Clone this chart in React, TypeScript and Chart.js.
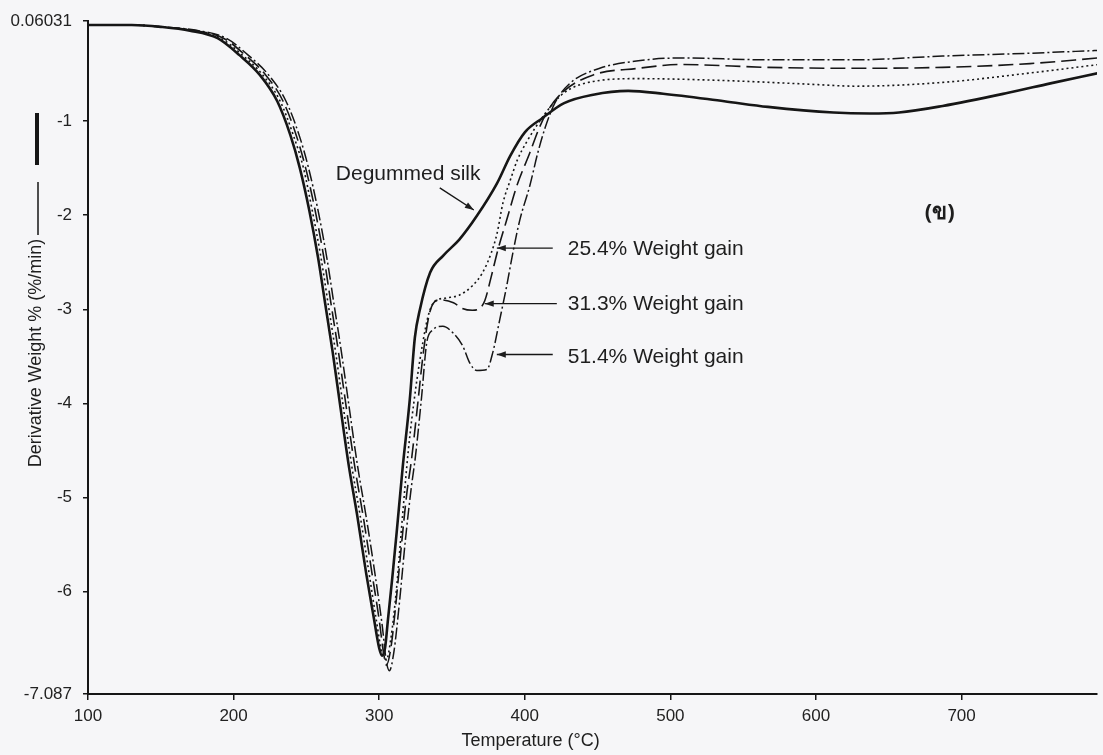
import React, { useEffect, useRef } from 'react';
import { Chart, registerables } from 'chart.js';

Chart.register(...registerables);

// ---- Data (Temperature °C vs Derivative Weight %/min) ----
const silkT = [100,130,150,170,189,204,218,230,239,245.5,252,258,263,268,273,279,285,291,296,300,302,304,306,309,312,316,321,324.5,328,335,344,355,367,381,390,400,412,427,447,471,495,537,567,612,637,657,687,732,761,794];
const silkV = [0.02,0.02,0,-0.04,-0.12,-0.30,-0.51,-0.79,-1.15,-1.50,-1.95,-2.45,-2.95,-3.45,-4.0,-4.65,-5.2,-5.8,-6.25,-6.6,-6.68,-6.6,-6.3,-5.85,-5.37,-4.7,-3.96,-3.3,-3.0,-2.61,-2.43,-2.26,-2.01,-1.66,-1.37,-1.12,-0.97,-0.81,-0.72,-0.68,-0.71,-0.79,-0.85,-0.91,-0.92,-0.91,-0.84,-0.70,-0.60,-0.49];

const gain25T = [100,130,150,172,191,206,220,232,241,248,254,260,265,270,275,281,287,293,298,302,305,308,312,316,320,325,330,334,338,346,355,364,371,377,381,385,390,395,401,414,427,447,478,537,597,627,687,747,794];
const gain25V = [0.02,0.02,0,-0.04,-0.12,-0.30,-0.51,-0.79,-1.15,-1.50,-1.95,-2.45,-2.95,-3.45,-4.0,-4.65,-5.2,-5.8,-6.3,-6.66,-6.72,-6.5,-5.95,-5.2,-4.5,-3.85,-3.35,-3.05,-2.92,-2.88,-2.85,-2.75,-2.61,-2.40,-2.19,-1.87,-1.63,-1.41,-1.23,-0.92,-0.70,-0.58,-0.55,-0.57,-0.61,-0.63,-0.59,-0.49,-0.40];

const gain31T = [100,130,150,174,193,208,222,234,243,249.5,256,262,267,272,277,283,289,295,300,303,305,308,311,315,319,322,326.5,330,334,337,342,351,357,364,369,372.5,377,381.5,387.6,394.5,403.4,410,417,427,447,478,507,567,627,687,747,794];
const gain31V = [0.02,0.02,0,-0.04,-0.12,-0.30,-0.51,-0.79,-1.15,-1.50,-1.95,-2.45,-2.95,-3.45,-4.0,-4.65,-5.2,-5.8,-6.3,-6.65,-6.78,-6.6,-6.2,-5.55,-4.95,-4.62,-4.0,-3.5,-3.08,-2.94,-2.90,-2.93,-2.99,-3.01,-2.99,-2.91,-2.65,-2.37,-2.05,-1.69,-1.34,-1.07,-0.86,-0.68,-0.51,-0.44,-0.40,-0.43,-0.44,-0.43,-0.39,-0.33];

const gain51T = [100,130,150,176,195,210,224,236,245,251.5,258,264,269,274,279,285,291,297,302,305,307,310,314,318,322,325,329,332.7,336.8,343.7,350.6,357.4,362.2,367,373.9,378,382.8,387.6,391.8,396.6,403.4,408.9,414,420.6,431,451.5,478,507,567,627,687,747,794];
const gain51V = [0.02,0.02,0,-0.04,-0.12,-0.30,-0.51,-0.79,-1.15,-1.50,-1.95,-2.45,-2.95,-3.45,-4.0,-4.65,-5.2,-5.8,-6.35,-6.75,-6.84,-6.65,-6.1,-5.45,-4.9,-4.55,-3.95,-3.35,-3.22,-3.18,-3.25,-3.39,-3.57,-3.65,-3.64,-3.46,-3.11,-2.75,-2.40,-2.05,-1.69,-1.34,-1.07,-0.81,-0.60,-0.44,-0.36,-0.33,-0.35,-0.35,-0.31,-0.28,-0.25];

const xTickValues = [100, 200, 300, 400, 500, 600, 700];
const yTickValues = [0.06031, -1, -2, -3, -4, -5, -6, -7.087];
const X_MIN = 100;
const X_MAX = 793;
const Y_MIN = -7.087;
const Y_MAX = 0.06031;

// annotation anchors in data units
const labelTexts = ['Degummed silk', '25.4% Weight gain', '31.3% Weight gain', '51.4% Weight gain'];
const labelT = [270.2, 429.5, 429.5, 429.5];
const labelV = [-1.57, -2.36, -2.95, -3.51];
const arrowFromT = [341.6, 419.2, 422.0, 419.2];
const arrowFromV = [-1.71, -2.35, -2.94, -3.48];
const arrowToT = [365.0, 380.8, 372.5, 380.8];
const arrowToV = [-1.945, -2.35, -2.94, -3.48];
const panelTag = '(ข)';
const panelT = 685;
const panelV = -1.97;

const FONT = "'Liberation Sans', Arial, sans-serif";
const INK = '#161616';
const BG = '#f6f6f8';

const toXY = (t: number[], v: number[]) => t.map((x, i) => ({ x, y: v[i] }));

function drawArrow(ctx: CanvasRenderingContext2D, x1: number, y1: number, x2: number, y2: number) {
  ctx.beginPath();
  ctx.moveTo(x1, y1);
  ctx.lineTo(x2, y2);
  ctx.stroke();
  const ang = Math.atan2(y2 - y1, x2 - x1);
  const L = 9, W = 3.2;
  ctx.beginPath();
  ctx.moveTo(x2, y2);
  ctx.lineTo(x2 - L * Math.cos(ang) + W * Math.sin(ang), y2 - L * Math.sin(ang) - W * Math.cos(ang));
  ctx.lineTo(x2 - L * Math.cos(ang) - W * Math.sin(ang), y2 - L * Math.sin(ang) + W * Math.cos(ang));
  ctx.closePath();
  ctx.fill();
}

const decoPlugin = {
  id: 'deco',
  beforeDraw(chart: any) {
    const ctx = chart.ctx;
    ctx.save();
    ctx.fillStyle = BG;
    ctx.fillRect(0, 0, chart.width, chart.height);
    ctx.restore();
  },
  afterDraw(chart: any) {
    const ctx: CanvasRenderingContext2D = chart.ctx;
    const xs = chart.scales.x;
    const ys = chart.scales.y;
    const area = chart.chartArea;
    ctx.save();
    ctx.fillStyle = '#1e1e1e';
    ctx.strokeStyle = INK;
    ctx.lineWidth = 1.4;
    ctx.textBaseline = 'middle';
    ctx.textAlign = 'left';
    ctx.font = `21px ${FONT}`;
    for (let i = 0; i < labelTexts.length; i++) {
      ctx.fillText(labelTexts[i], xs.getPixelForValue(labelT[i]), ys.getPixelForValue(labelV[i]));
      drawArrow(
        ctx,
        xs.getPixelForValue(arrowFromT[i]), ys.getPixelForValue(arrowFromV[i]),
        xs.getPixelForValue(arrowToT[i]), ys.getPixelForValue(arrowToV[i])
      );
    }
    // panel tag
    ctx.textAlign = 'center';
    ctx.font = `bold 22px 'Noto Sans', 'DejaVu Sans', ${FONT}`;
    ctx.fillText(panelTag, xs.getPixelForValue(panelT), ys.getPixelForValue(panelV));

    // x title
    ctx.font = `18px ${FONT}`;
    ctx.textAlign = 'center';
    ctx.fillText('Temperature (°C)', xs.getPixelForValue(404), area.bottom + 47);

    // y title
    ctx.save();
    ctx.translate(area.left - 52, 353);
    ctx.rotate(-Math.PI / 2);
    ctx.font = `18px ${FONT}`;
    ctx.textAlign = 'center';
    ctx.fillText('Derivative Weight % (%/min)', 0, 0);
    ctx.restore();
    // line-style sample after the title
    ctx.lineWidth = 1.5;
    ctx.beginPath();
    ctx.moveTo(area.left - 50, 235);
    ctx.lineTo(area.left - 50, 182);
    ctx.stroke();
    // thick bar marker
    ctx.lineWidth = 4;
    ctx.beginPath();
    ctx.moveTo(area.left - 51, 165);
    ctx.lineTo(area.left - 51, 113);
    ctx.stroke();
    ctx.restore();
  },
};

export default function App() {
  const ref = useRef<HTMLCanvasElement | null>(null);

  useEffect(() => {
    if (!ref.current) return;
    const common = {
      borderColor: INK,
      pointRadius: 0,
      fill: false,
      cubicInterpolationMode: 'monotone' as const,
    };
    const chart = new Chart(ref.current, {
      type: 'line',
      data: {
        datasets: [
          { ...common, label: 'Degummed silk', data: toXY(silkT, silkV), borderWidth: 2.6 },
          { ...common, label: '25.4% Weight gain', data: toXY(gain25T, gain25V), borderWidth: 1.6, borderDash: [2, 3] },
          { ...common, label: '31.3% Weight gain', data: toXY(gain31T, gain31V), borderWidth: 1.6, borderDash: [15, 6] },
          { ...common, label: '51.4% Weight gain', data: toXY(gain51T, gain51V), borderWidth: 1.5, borderDash: [12, 3, 2, 3] },
        ],
      },
      options: {
        animation: false,
        responsive: false,
        maintainAspectRatio: false,
        layout: { padding: { top: 20, right: 6, left: 0, bottom: 0 } },
        plugins: { legend: { display: false }, tooltip: { enabled: false } },
        scales: {
          x: {
            type: 'linear',
            min: X_MIN,
            max: X_MAX,
            afterBuildTicks: (s: any) => { s.ticks = xTickValues.map((v) => ({ value: v })); },
            afterFit: (s: any) => { s.height = 61; },
            grid: { drawOnChartArea: false, drawTicks: true, tickLength: 6, color: INK, lineWidth: 1.5 },
            border: { display: true, color: INK, width: 2 },
            ticks: { font: { family: FONT, size: 17 }, color: '#222', padding: 6, maxRotation: 0, autoSkip: false },
          },
          y: {
            type: 'linear',
            min: Y_MIN,
            max: Y_MAX,
            afterBuildTicks: (s: any) => { s.ticks = yTickValues.map((v) => ({ value: v })); },
            afterFit: (s: any) => { s.width = 88; },
            grid: { drawOnChartArea: false, drawTicks: true, tickLength: 5, color: INK, lineWidth: 1.5 },
            border: { display: true, color: INK, width: 2 },
            ticks: {
              font: { family: FONT, size: 17 },
              color: '#222',
              padding: 11,
              autoSkip: false,
              callback: (v: any) => String(v),
            },
          },
        },
      },
      plugins: [decoPlugin],
    });
    return () => chart.destroy();
  }, []);

  return (
    <div style={{ position: 'fixed', left: 0, top: 0, width: 1103, height: 755, background: BG }}>
      <canvas ref={ref} width={1103} height={755} style={{ display: 'block' }} />
    </div>
  );
}
